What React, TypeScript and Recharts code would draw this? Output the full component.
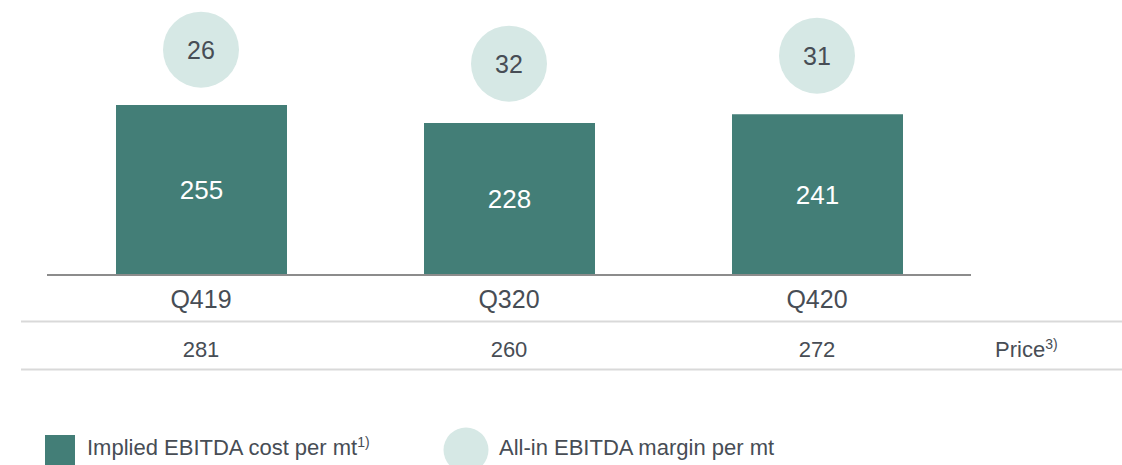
import { ComposedChart, Bar, Line, XAxis, YAxis, LabelList, Customized } from 'recharts';

const quarters = ['Q419', 'Q320', 'Q420'];
const ebitdaCost = [255, 228, 241];
const ebitdaMargin = [26, 32, 31];
const prices = [281, 260, 272];

const seriesNames = ['Implied EBITDA cost per mt', 'All-in EBITDA margin per mt'];

const barColor = '#437e77';
const bubbleColor = '#d6e8e5';
const textColor = '#474d55';
const font = '"Liberation Sans", Arial, sans-serif';
const R = 38;

const rows = quarters.map((q, i) => ({
  quarter: q,
  cost: ebitdaCost[i],
  margin: ebitdaMargin[i],
  // bubble sits on top of cost + margin
  top: ebitdaCost[i] + ebitdaMargin[i],
}));

function QuarterTick(props: any) {
  const { x, y, payload } = props;
  return (
    <g>
      <text x={x} y={y + 33} textAnchor="middle" fontSize={25} fill={textColor} fontFamily={font}>
        {payload.value}
      </text>
      <text x={x} y={y + 82} textAnchor="middle" fontSize={22} fill={textColor} fontFamily={font}>
        {prices[payload.index]}
      </text>
    </g>
  );
}

function Bubble(props: any) {
  const { cx, cy, payload, index } = props;
  if (cx == null || cy == null) return <g key={index} />;
  return (
    <g key={index}>
      <circle cx={cx} cy={cy - R} r={R} fill={bubbleColor} />
      <text
        x={cx}
        y={cy - R}
        textAnchor="middle"
        dominantBaseline="central"
        fontSize={25}
        fill={textColor}
        fontFamily={font}
      >
        {payload.margin}
      </text>
    </g>
  );
}

function Extras() {
  return (
    <g fontFamily={font} fill={textColor}>
      <line x1={21} x2={1122} y1={321.5} y2={321.5} stroke="#d9d9d9" strokeWidth={2} />
      <line x1={21} x2={1122} y1={369.5} y2={369.5} stroke="#d9d9d9" strokeWidth={2} />
      <text x={995} y={357} fontSize={22}>
        Price<tspan fontSize={14} dy={-8}>3)</tspan>
      </text>
      {/* legend */}
      <rect x={45} y={435} width={30} height={30} fill={barColor} />
      <text x={87} y={455} fontSize={22}>
        {seriesNames[0]}
        <tspan fontSize={14} dy={-8}>1)</tspan>
      </text>
      <circle cx={466} cy={450} r={22.5} fill={bubbleColor} />
      <text x={499} y={455} fontSize={22}>
        {seriesNames[1]}
      </text>
    </g>
  );
}

export default function App() {
  return (
    <div style={{ width: 1122, height: 465 }}>
      <style>{'body{margin:0}'}</style>
      <ComposedChart
        width={1122}
        height={465}
        data={rows}
        margin={{ top: 5, right: 151, bottom: 160, left: 47 }}
      >
        <XAxis
          dataKey="quarter"
          height={30}
          tickSize={0}
          tickMargin={0}
          tickLine={false}
          interval={0}
          axisLine={{ stroke: '#8c8c8c', strokeWidth: 2 }}
          tick={<QuarterTick />}
        />
        <YAxis hide domain={[0, 405]} />
        <Bar dataKey="cost" name={seriesNames[0]} fill={barColor} barSize={171} isAnimationActive={false}>
          <LabelList
            dataKey="cost"
            position="center"
            fill="#ffffff"
            fontSize={26}
            fontFamily={font}
          />
        </Bar>
        <Line
          dataKey="top"
          name={seriesNames[1]}
          stroke="none"
          dot={(p: any) => <Bubble {...p} />}
          activeDot={false}
          isAnimationActive={false}
        />
        <Customized component={Extras} />
      </ComposedChart>
    </div>
  );
}
